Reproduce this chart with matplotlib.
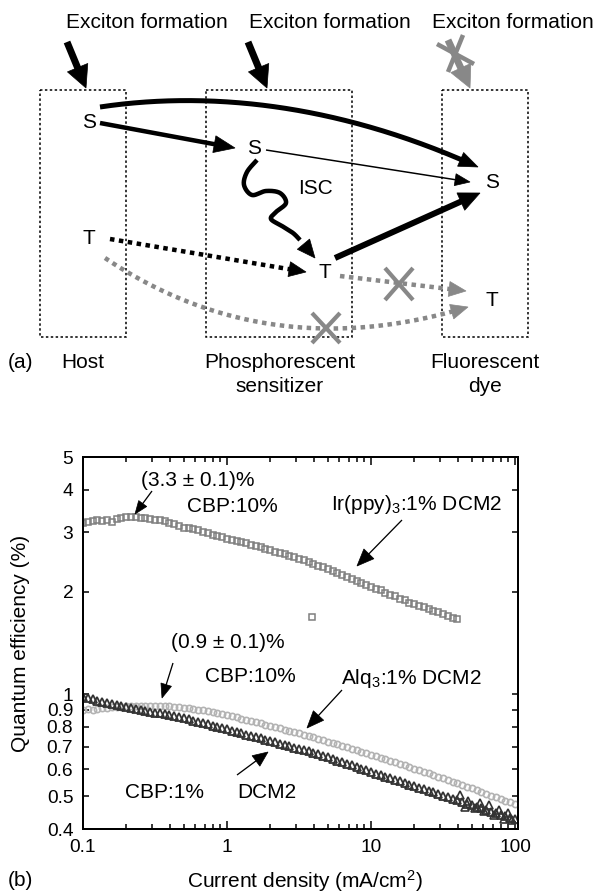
import numpy as np
import matplotlib
matplotlib.use("Agg")
import matplotlib.pyplot as plt
from matplotlib.patches import Polygon, Rectangle
from matplotlib.ticker import FixedLocator, NullFormatter, NullLocator

plt.rcParams["font.family"] = ["Liberation Sans", "DejaVu Sans"]
plt.rcParams["mathtext.fontset"] = "custom"
plt.rcParams["mathtext.rm"] = "Liberation Sans"
plt.rcParams["mathtext.it"] = "Liberation Sans:italic"
plt.rcParams["mathtext.bf"] = "Liberation Sans:bold"

# ---------------------------------------------------------------- data (b)
current_density = [
    0.1, 0.108, 0.117, 0.126, 0.136, 0.147, 0.158, 0.171, 0.185, 0.200,
    0.215, 0.233, 0.251, 0.271, 0.293, 0.316, 0.341, 0.369, 0.398, 0.430,
    0.464, 0.501, 0.541, 0.584, 0.631, 0.681, 0.736, 0.794, 0.858, 0.926,
    1.0, 1.08, 1.17, 1.26, 1.36, 1.47, 1.58, 1.71, 1.85, 2.00,
    2.15, 2.33, 2.51, 2.71, 2.93, 3.16, 3.41, 3.69, 3.98, 4.30,
    4.64, 5.01, 5.41, 5.84, 6.31, 6.81, 7.36, 7.94, 8.58, 9.26,
    10.0, 10.8, 11.7, 12.6, 13.6, 14.7, 15.8, 17.1, 18.5, 20.0,
    21.5, 23.3, 25.1, 27.1, 29.3, 31.6, 34.1, 36.9, 39.8, 43.0,
    46.4, 50.1, 54.1, 58.4, 63.1, 68.1, 73.6, 79.4, 85.8, 92.6,
    100.0,
]

# Ir(ppy)3 : 1% DCM2 in CBP (10%)  -- open squares
ir_qe = [
    3.20, 3.22, 3.24, 3.25, 3.24, 3.26, 3.22, 3.29, 3.31, 3.32,
    3.33, 3.32, 3.31, 3.30, 3.28, 3.27, 3.25, 3.23, 3.20, 3.17,
    3.13, 3.08, 3.09, 3.07, 3.04, 3.01, 2.98, 2.95, 2.93, 2.90,
    2.87, 2.85, 2.82, 2.80, 2.78, 2.75, 2.73, 2.71, 2.68, 2.66,
    2.63, 2.61, 2.58, 2.56, 2.53, 2.51, 2.48, 2.45, 2.42, 2.39,
    2.37, 2.34, 2.31, 2.28, 2.25, 2.22, 2.19, 2.16, 2.13, 2.10,
    2.07, 2.04, 2.02, 1.99, 1.96, 1.94, 1.91, 1.89, 1.86, 1.84,
    1.82, 1.80, 1.78, 1.76, 1.74, 1.72, 1.70, 1.68, 1.66,
]
ir_stray_j = [3.9]
ir_stray_qe = [1.69]

# Alq3 : 1% DCM2 -- open circles
alq_qe = [
    0.900, 0.902, 0.898, 0.904, 0.907, 0.910, 0.913, 0.916, 0.918, 0.920,
    0.922, 0.923, 0.925, 0.925, 0.925, 0.925, 0.924, 0.922, 0.920, 0.917,
    0.914, 0.911, 0.908, 0.904, 0.900, 0.896, 0.891, 0.886, 0.880, 0.874,
    0.867, 0.861, 0.854, 0.847, 0.840, 0.834, 0.827, 0.820, 0.813, 0.806,
    0.799, 0.792, 0.785, 0.778, 0.772, 0.765, 0.758, 0.752, 0.745, 0.738,
    0.731, 0.724, 0.717, 0.710, 0.703, 0.696, 0.689, 0.683, 0.676, 0.669,
    0.662, 0.655, 0.649, 0.642, 0.635, 0.629, 0.622, 0.616, 0.609, 0.603,
    0.597, 0.590, 0.584, 0.578, 0.571, 0.565, 0.558, 0.552, 0.545, 0.539,
    0.533, 0.527, 0.520, 0.514, 0.508, 0.502, 0.497, 0.491, 0.485, 0.480,
    0.474,
]

# CBP : 1% DCM2 -- open triangles
dcm2_qe = [
    0.980, 0.972, 0.964, 0.956, 0.948, 0.940, 0.932, 0.926, 0.921, 0.915,
    0.910, 0.904, 0.899, 0.893, 0.888, 0.882, 0.877, 0.872, 0.867, 0.861,
    0.856, 0.849, 0.842, 0.835, 0.828, 0.821, 0.814, 0.807, 0.800, 0.793,
    0.787, 0.780, 0.773, 0.766, 0.759, 0.753, 0.746, 0.740, 0.733, 0.727,
    0.720, 0.714, 0.708, 0.701, 0.695, 0.689, 0.683, 0.677, 0.671, 0.664,
    0.657, 0.650, 0.643, 0.636, 0.629, 0.622, 0.616, 0.609, 0.603, 0.596,
    0.590, 0.583, 0.577, 0.571, 0.565, 0.559, 0.553, 0.547, 0.541, 0.535,
    0.530, 0.524, 0.518, 0.513, 0.507, 0.502, 0.496, 0.491, 0.486, 0.481,
    0.475, 0.470, 0.465, 0.460, 0.455, 0.450, 0.446, 0.441, 0.436, 0.431,
    0.427,
]
dcm2_noisy_j = [41.5, 45.0, 47.0, 53.0, 57.0, 61.0, 66.0, 72.0, 78.0, 84.0, 90.0, 96.0]
dcm2_noisy_qe = [0.505, 0.466, 0.484, 0.462, 0.476, 0.452, 0.470, 0.440, 0.455, 0.428, 0.447, 0.424]

x_ticks = [0.1, 1, 10, 100]
x_ticklabels = ["0.1", "1", "10", "100"]
y_ticks = [0.4, 0.5, 0.6, 0.7, 0.8, 0.9, 1, 2, 3, 4, 5]
y_ticklabels = ["0.4", "0.5", "0.6", "0.7", "0.8", "0.9", "1", "2", "3", "4", "5"]

# ---------------------------------------------------------------- figure
W, H = 601, 893
AX_L, AX_R, AX_T, AX_B = 83, 518, 457, 829
fig = plt.figure(figsize=(W / 100, H / 100), dpi=100)

ax = fig.add_axes([AX_L / W, 1 - AX_B / H, (AX_R - AX_L) / W, (AX_B - AX_T) / H])
ax.set_xscale("log")
ax.set_yscale("log")

x = np.array(current_density)
ax.plot(x[: len(alq_qe)], alq_qe, ls="none", marker="o", ms=4.5, mfc="none",
        mec="#b3b3b3", mew=1.2, zorder=3)
ax.plot(x[: len(dcm2_qe)], dcm2_qe, ls="none", marker="^", ms=5.6, mfc="none",
        mec="#333333", mew=1.3, zorder=4)
ax.plot(dcm2_noisy_j, dcm2_noisy_qe, ls="none", marker="^", ms=5.6, mfc="none",
        mec="#333333", mew=1.2, zorder=4)
ax.plot(x[: len(ir_qe)], ir_qe, ls="none", marker="s", ms=4.4, mfc="none",
        mec="#7f7f7f", mew=1.1, zorder=5)
ax.plot(ir_stray_j, ir_stray_qe, ls="none", marker="s", ms=4.4, mfc="none",
        mec="#7f7f7f", mew=1.1, zorder=5)

ax.set_xlim(0.1, 105)
ax.set_ylim(0.4, 5)
ax.xaxis.set_major_locator(FixedLocator(x_ticks))
ax.set_xticklabels(x_ticklabels)
ax.xaxis.set_minor_locator(FixedLocator(
    [m * d for d in (0.1, 1, 10) for m in range(2, 10)]))
ax.xaxis.set_minor_formatter(NullFormatter())
ax.yaxis.set_major_locator(FixedLocator(y_ticks))
ax.set_yticklabels(y_ticklabels)
ax.yaxis.set_minor_locator(NullLocator())
ax.tick_params(which="both", direction="in", top=True, right=True,
               labelsize=13.8, width=1.1, color="black")
ax.tick_params(axis="x", which="major", length=6, pad=7)
ax.tick_params(axis="x", which="minor", length=3.5)
ax.tick_params(axis="y", which="major", length=4.5, pad=7)
for sp in ax.spines.values():
    sp.set_linewidth(1.4)

# ---------------------------------------------------------------- overlay in pixel units
ov = fig.add_axes([0, 0, 1, 1], zorder=6)
ov.set_xlim(0, W)
ov.set_ylim(H, 0)
ov.axis("off")

PT = 0.72          # points per pixel at 100 dpi
GREY = "#888888"

# frame around the efficiency plot
ov.add_patch(Rectangle((AX_L, AX_T), AX_R - AX_L, AX_B - AX_T, fill=False,
                       ec="black", lw=1.4, zorder=10))


def head(tip, back, length, width, color):
    tip = np.asarray(tip, float)
    back = np.asarray(back, float)
    d = tip - back
    d = d / np.hypot(*d)
    n = np.array([-d[1], d[0]])
    base = tip - d * length
    ov.add_patch(Polygon([tip, base + n * width / 2, base - n * width / 2],
                         closed=True, fc=color, ec=color, lw=0.5, zorder=7))
    return base, d


def line(pts, width, color, dotted=False, z=6):
    pts = np.asarray(pts, float)
    kw = dict(color=color, lw=width * PT, zorder=z, solid_capstyle="butt")
    if dotted:
        kw.update(ls=(0, (1, 1)), dash_capstyle="butt")
    ov.plot(pts[:, 0], pts[:, 1], **kw)


def straight(start, tip, width, hl, hw, color="black", dotted=False):
    base, d = head(tip, start, hl, hw, color)
    line([start, base + d * 1.5], width, color, dotted)


def bezier(ctrl, n=300):
    P = np.asarray(ctrl, float)
    t = np.linspace(0, 1, n)[:, None]
    if len(P) == 3:
        return (1 - t) ** 2 * P[0] + 2 * (1 - t) * t * P[1] + t ** 2 * P[2]
    return ((1 - t) ** 3 * P[0] + 3 * (1 - t) ** 2 * t * P[1]
            + 3 * (1 - t) * t ** 2 * P[2] + t ** 3 * P[3])


def curved(pts, width, hl, hw, color="black", dotted=False):
    tip = pts[-1]
    dist = np.hypot(*(pts - tip).T)
    back = pts[np.argmin(np.abs(dist - hl))]
    base, d = head(tip, back, hl, hw, color)
    keep = pts[dist > hl - 1.5]
    line(np.vstack([keep, base + d * 1.5]), width, color, dotted)


def catmull(points, n=20):
    P = np.asarray(points, float)
    P = np.vstack([P[0], P, P[-1]])
    out = []
    for i in range(1, len(P) - 2):
        p0, p1, p2, p3 = P[i - 1], P[i], P[i + 1], P[i + 2]
        for t in np.linspace(0, 1, n, endpoint=False):
            out.append(0.5 * (2 * p1 + (-p0 + p2) * t
                              + (2 * p0 - 5 * p1 + 4 * p2 - p3) * t ** 2
                              + (-p0 + 3 * p1 - 3 * p2 + p3) * t ** 3))
    out.append(P[-2])
    return np.array(out)


def cross(cx, cy, hx, hy, width=4.2):
    line([(cx - hx, cy - hy), (cx + hx, cy + hy)], width, GREY, z=8)
    line([(cx + hx, cy - hy), (cx - hx, cy + hy)], width, GREY, z=8)


TXT = dict(ha="center", va="center", fontsize=15, color="black", zorder=9)

# ---------------------------------------------------------------- (a) energy-transfer scheme
for x0, x1 in ((40, 126), (206, 352), (442, 528)):
    ov.add_patch(Rectangle((x0, 90), x1 - x0, 247, fill=False, ec="black",
                           lw=1.1, ls=(0, (1.6, 1.6)), zorder=5))

for cx in (147, 330, 513):
    ov.text(cx, 22, "Exciton formation", **TXT)

straight((67, 42), (86, 88), 7, 22, 22)
straight((248, 42), (267, 88), 7, 22, 22)
straight((448, 40), (470, 88), 7, 22, 22, color=GREY)
line([(437, 44), (474, 64)], 4.5, GREY, z=8)
line([(463, 35), (448, 72)], 4.5, GREY, z=8)

for (cx, cy, s) in ((89, 123, "S"), (254, 148, "S"), (492, 183, "S"),
                    (89, 239, "T"), (325, 273, "T"), (492, 300, "T"),
                    (316, 188, "ISC")):
    ov.text(cx, cy, s, **TXT)

# singlet transfers
curved(bezier([(100, 107), (200, 92), (330, 100), (478, 167)]), 5, 19, 15)
straight((100, 123), (235, 148), 4.5, 21, 17)
straight((266, 150), (470, 182), 1.5, 15, 12)
# intersystem crossing (wavy)
wave = catmull([(257, 160), (247, 172), (244, 185), (252, 195), (266, 191),
                (280, 193), (286, 203), (276, 212), (271, 219), (282, 226),
                (293, 233), (300, 240)])
line(wave, 4.5, "black")
head((315, 258), (300, 240), 18, 16, "black")
# triplet of sensitizer to singlet of dye
straight((335, 258), (480, 193), 6, 21, 19)
# triplet transfers
straight((110, 239), (306, 272), 4.5, 17, 15, dotted=True)
straight((340, 276), (466, 291), 4.5, 17, 15, color=GREY, dotted=True)
curved(bezier([(105, 258), (200, 322), (320, 352), (468, 307)]), 4.5, 17, 15,
       color=GREY, dotted=True)
cross(399, 284, 14, 16)
cross(326, 328, 14, 15)

ov.text(8, 362, "(a)", ha="left", va="center", fontsize=15, zorder=9)
ov.text(83, 362, "Host", **TXT)
ov.text(280, 362, "Phosphorescent", **TXT)
ov.text(280, 386, "sensitizer", **TXT)
ov.text(485, 362, "Fluorescent", **TXT)
ov.text(485, 386, "dye", **TXT)

# ---------------------------------------------------------------- (b) annotations
ov.text(198, 480, "(3.3 ± 0.1)%", **TXT)
ov.text(232, 506, "CBP:10%", **TXT)
straight((152, 491), (135, 514), 1.3, 13, 10)

ov.text(416, 505, r"Ir(ppy)$_3$:1% DCM2", **TXT)
straight((402, 520), (357, 566), 1.3, 17, 14)

ov.text(228, 643, "(0.9 ± 0.1)%", **TXT)
ov.text(250, 677, "CBP:10%", **TXT)
straight((173, 663), (162, 698), 1.3, 14, 11)

ov.text(411, 678, r"Alq$_3$:1% DCM2", **TXT)
straight((342, 690), (307, 728), 1.3, 17, 14)

ov.text(165, 792, "CBP:1%", **TXT)
ov.text(267, 792, "DCM2", **TXT)
straight((237, 775), (268, 752), 1.3, 15, 13)

ov.text(21, 643, "Quantum efficiency (%)", rotation=90, **TXT)
ov.text(305, 881, r"Current density (mA/cm$^2$)", **TXT)
ov.text(8, 881, "(b)", ha="left", va="center", fontsize=15, zorder=9)

fig.savefig("out.png", dpi=100)
